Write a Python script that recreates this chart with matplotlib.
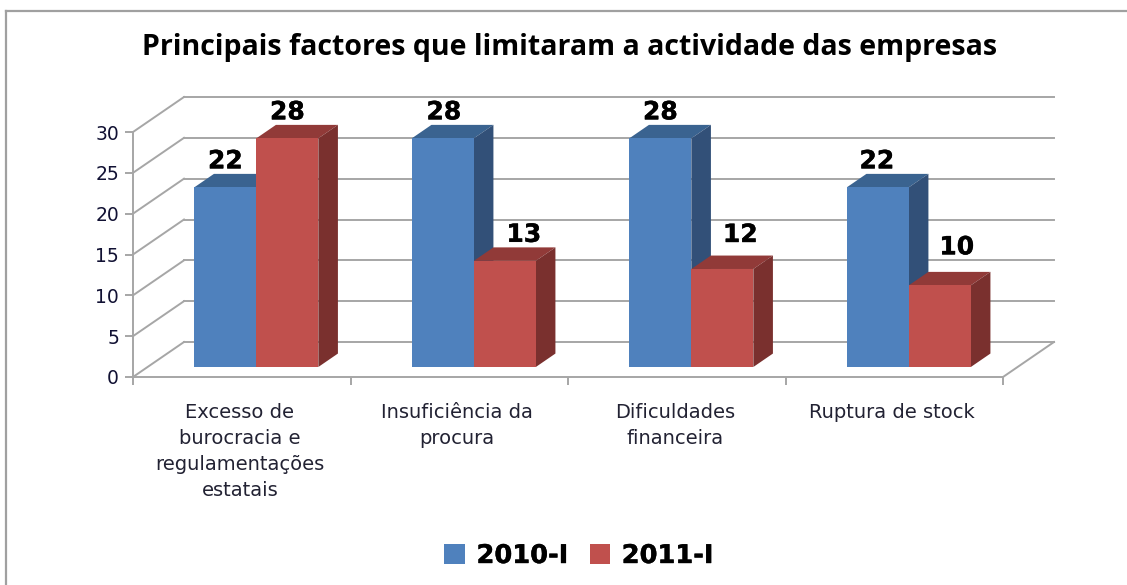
import matplotlib
matplotlib.use("Agg")
import matplotlib.pyplot as plt
import matplotlib.patches as mpatches
import matplotlib.patheffects as pe
from matplotlib.transforms import Affine2D

################### data ######################
categories = [
    "Excesso de\nburocracia e\nregulamentações\nestatais",
    "Insuficiência da\nprocura",
    "Dificuldades\nfinanceira",
    "Ruptura de stock",
]
series_names = ["2010-I", "2011-I"]
values_2010 = [22, 28, 28, 22]
values_2011 = [28, 13, 12, 10]
y_ticks = [0, 5, 10, 15, 20, 25, 30]

################### config ######################
W, H = 1127, 585
LEFT, RIGHT, BOTTOM, TOP = 133, 1003, 377, 132  # eixo frontal em px
CAT_PX = (RIGHT - LEFT) / 4
VAL_PX = (BOTTOM - TOP) / 30
DX = 51 / CAT_PX   # profundidade em unidades de dados
DY = 35 / VAL_PX
BAR_W = 62 / CAT_PX
D_FRONT, D_BACK = 0.286, 0.67

BLUE = ("#4F81BD", "#3A6390", "#325078")   # frente, topo, lado
RED = ("#C0504D", "#913A38", "#7A302E")
GRID = "#A6A6A6"
HEAVY = [pe.withStroke(linewidth=0.3, foreground="black")]

# deslocamento dos rótulos em px (dx, dy acima do topo)
label_off_2010 = [(0, 26), (1, 26), (0, 26), (-1, 26)]
label_off_2011 = [(0, 26), (19, 26), (18, 34), (17, 38)]

plt.rcParams["font.family"] = ["Open Sans", "DejaVu Sans"]

fig = plt.figure(figsize=(W / 100, H / 100), dpi=100)
ax = fig.add_axes([LEFT / W, (H - BOTTOM) / H, (RIGHT - LEFT) / W, (BOTTOM - TOP) / H])
ax.set_xlim(0, 4)
ax.set_ylim(0, 30)
ax.patch.set_alpha(0)


def proj(x, y, d):
    return (x + d * DX, y + d * DY)


def draw_bars(xs, vals, cols, offs, zo):
    front = Affine2D().translate(D_FRONT * DX, D_FRONT * DY) + ax.transData
    ax.bar(xs, vals, width=BAR_W, align="edge", color=cols[0], transform=front,
           clip_on=False, zorder=zo + 1)
    for x, v, off in zip(xs, vals, offs):
        x2 = x + BAR_W
        top = [proj(x, v, D_FRONT), proj(x2, v, D_FRONT), proj(x2, v, D_BACK), proj(x, v, D_BACK)]
        side = [proj(x2, 0, D_FRONT), proj(x2, v, D_FRONT), proj(x2, v, D_BACK), proj(x2, 0, D_BACK)]
        ax.add_patch(mpatches.Polygon(top, fc=cols[1], ec="none", clip_on=False, zorder=zo))
        ax.add_patch(mpatches.Polygon(side, fc=cols[2], ec="none", clip_on=False, zorder=zo))
        lx, ly = proj(x + BAR_W / 2, v, D_FRONT)
        ax.annotate(str(v), (lx, ly), xytext=(off[0] * 0.72, off[1] * 0.72),
                    textcoords="offset points", ha="center", va="center",
                    fontsize=18, fontweight="bold", fontfamily="DejaVu Sans",
                    color="black", zorder=10, annotation_clip=False, path_effects=HEAVY)


# paredes: grelha de fundo e diagonais
for v in y_ticks:
    ax.plot([0, DX], [v, v + DY], color=GRID, lw=1.4, clip_on=False, zorder=1)
    ax.plot([DX, 4 + DX], [v + DY, v + DY], color=GRID, lw=1.4, clip_on=False, zorder=1)
ax.plot([4, 4 + DX], [0, DY], color=GRID, lw=1.4, clip_on=False, zorder=1)

x_2010 = [i + 0.5 - BAR_W for i in range(4)]
x_2011 = [i + 0.5 for i in range(4)]
draw_bars(x_2010, values_2010, BLUE, label_off_2010, 3)
draw_bars(x_2011, values_2011, RED, label_off_2011, 5)

for s in ("top", "right"):
    ax.spines[s].set_visible(False)
for s in ("left", "bottom"):
    ax.spines[s].set_color(GRID)
    ax.spines[s].set_linewidth(1.4)

ax.set_yticks(y_ticks)
ax.set_yticklabels([str(v) for v in y_ticks], fontsize=13.5, color="#111133", fontfamily="DejaVu Sans")
ax.set_xticks(range(5))
ax.set_xticklabels([])
ax.tick_params(axis="both", color=GRID, width=1.4, length=6)
ax.tick_params(axis="y", pad=4)

for i, c in enumerate(categories):
    ax.annotate(c, (i + 0.5, 0), xytext=(-2 / 1.39, -19), textcoords="offset points",
                ha="center", va="top", fontsize=14, color="#222233",
                fontfamily="DejaVu Sans", linespacing=1.46, annotation_clip=False)

fig.text(570 / W, 1 - 47 / H, "Principais factores que limitaram a actividade das empresas",
         ha="center", va="center", fontsize=20.5, fontweight="bold", color="black")

# legenda
handles = [mpatches.Patch(fc=BLUE[0]), mpatches.Patch(fc=RED[0])]
leg = fig.legend(handles, series_names, loc="center", bbox_to_anchor=(579 / W, 1 - 556 / H),
                 ncol=2, frameon=False, prop={"size": 18.5, "weight": "bold", "family": "DejaVu Sans"},
                 handlelength=0.8, handleheight=0.8, handletextpad=0.45, columnspacing=0.82)
for t in leg.get_texts():
    t.set_path_effects(HEAVY)

# moldura do gráfico (corta na margem direita/inferior)
fig.add_artist(plt.Line2D([6 / W, 6 / W], [0, 1 - 11 / H], color="#A0A0A0", lw=1.6))
fig.add_artist(plt.Line2D([6 / W, 1], [1 - 11 / H, 1 - 11 / H], color="#A0A0A0", lw=1.6))

fig.savefig("out.png", dpi=100)
